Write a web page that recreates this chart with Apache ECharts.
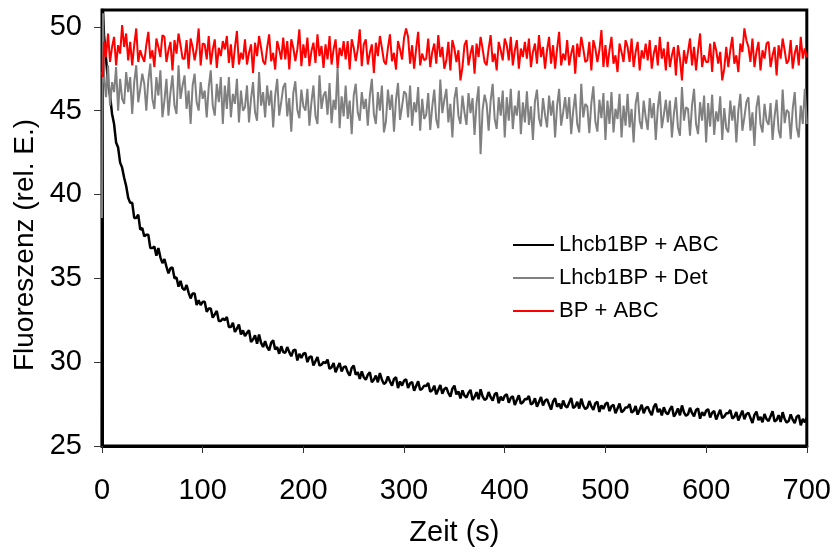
<!DOCTYPE html>
<html>
<head>
<meta charset="utf-8">
<script src="https://cdn.jsdelivr.net/npm/echarts@6/dist/echarts.min.js"></script>
<style>
html,body{margin:0;padding:0;background:#fff;}
#chart{width:834px;height:552px;}
</style>
</head>
<body>
<div id="chart"></div>
<script>
// ---- data ----
const seriesNames = ['Lhcb1BP + ABC', 'Lhcb1BP + Det', 'BP + ABC'];
const xTicks = [0, 100, 200, 300, 400, 500, 600, 700];
const yTicks = [25, 30, 35, 40, 45, 50];
const sampleStart = 2;   // s, first regular sample
const sampleStep = 2;    // s, spacing of regular samples

// initial transients [time, value]
const blackStart = [[0, 25], [1, 51]];
const grayStart = [[0, 38.6], [1, 50.8]];
const redStart = [[0, 47.3], [1, 47.0]];

const blackValues = [
  49.5, 48.1, 46.7, 45.9, 44.8, 44.2, 43.1, 42.8, 41.9, 41.6,
  41.0, 40.5, 39.8, 39.5, 39.5, 38.6, 38.6, 38.8, 37.9, 38.0,
  37.5, 37.6, 37.6, 36.8, 36.8, 36.9, 36.35, 36.8, 36.25, 35.9,
  36.15, 35.7, 35.3, 35.6, 35.65, 35.0, 35.05, 34.5, 34.85, 34.4,
  34.3, 34.6, 34.15, 33.8, 34.1, 34.1, 33.4, 33.7, 33.4, 33.6,
  33.6, 33.0, 33.2, 33.2, 32.65, 32.85, 33.05, 32.45, 32.45, 32.6,
  32.5, 32.7, 32.1, 32.1, 32.35, 31.8, 32.0, 32.25, 31.65, 31.9,
  31.55, 31.75, 31.9, 31.2, 31.35, 31.6, 31.1, 31.65, 31.15, 30.9,
  31.25, 30.9, 30.7, 31.15, 31.3, 30.75, 30.9, 30.5, 30.95, 30.6,
  30.55, 30.9, 30.6, 30.35, 30.7, 30.75, 30.1, 30.5, 30.25, 30.5,
  30.55, 30.0, 30.3, 30.35, 29.8, 30.05, 30.3, 29.8, 29.85, 30.0,
  29.95, 30.15, 29.6, 29.7, 29.95, 29.4, 29.7, 29.95, 29.45, 29.7,
  29.75, 29.4, 29.2, 29.65, 29.8, 29.25, 29.4, 29.0, 29.45, 29.1,
  28.95, 29.25, 29.4, 28.8, 28.95, 29.2, 28.8, 29.35, 28.95, 28.7,
  28.8, 29.15, 28.85, 28.6, 29.0, 29.1, 28.45, 28.85, 28.6, 28.9,
  28.98, 28.46, 28.74, 28.82, 28.3, 28.58, 28.86, 28.34, 28.42, 28.6,
  28.58, 28.76, 28.24, 28.32, 28.6, 28.08, 28.36, 28.64, 28.12, 28.4,
  28.48, 28.16, 27.94, 28.42, 28.6, 28.08, 28.26, 27.84, 28.32, 28.0,
  27.89, 28.17, 28.35, 27.74, 27.92, 28.21, 27.79, 28.38, 27.96, 27.75,
  27.84, 28.22, 27.91, 27.7, 28.08, 28.17, 27.55, 27.94, 27.72, 28.0,
  28.09, 27.58, 27.87, 27.96, 27.45, 27.74, 28.03, 27.52, 27.61, 27.8,
  27.79, 27.98, 27.47, 27.56, 27.85, 27.34, 27.63, 27.92, 27.41, 27.7,
  27.79, 27.48, 27.17, 27.66, 27.85, 27.34, 27.53, 27.22, 27.71, 27.4,
  27.29, 27.58, 27.87, 27.26, 27.35, 27.64, 27.23, 27.82, 27.41, 27.2,
  27.29, 27.68, 27.37, 27.16, 27.55, 27.64, 27.03, 27.42, 27.21, 27.5,
  27.59, 27.08, 27.37, 27.46, 26.95, 27.24, 27.53, 27.02, 27.11, 27.3,
  27.3, 27.5, 26.99, 27.09, 27.38, 26.87, 27.16, 27.46, 26.95, 27.25,
  27.35, 27.05, 26.84, 27.33, 27.52, 27.02, 27.21, 26.82, 27.31, 27.0,
  26.89, 27.18, 27.37, 26.76, 26.95, 27.24, 26.83, 27.42, 27.01, 26.8,
  26.89, 27.28, 26.97, 26.76, 27.15, 27.24, 26.63, 27.02, 26.81, 27.1,
  27.2, 26.7, 26.99, 27.08, 26.58, 26.87, 27.16, 26.66, 26.76, 26.95,
  26.95, 27.15, 26.64, 26.74, 27.03, 26.52, 26.82, 27.11, 26.6, 26.9,
  26.99, 26.68, 26.37, 26.86, 27.05, 26.54, 26.73, 26.42, 26.91, 26.6,
  26.49, 26.78, 27.07, 26.46, 26.55, 26.84, 26.43, 27.02, 26.61, 26.4,
  26.49, 26.88, 26.57, 26.36, 26.75, 26.84, 26.23, 26.62, 26.41, 26.7
];

const grayValues = [
  47.2, 45.8, 47.7, 45.3, 46.7, 46.1, 47.6, 45.0, 46.9, 45.7,
  45.4, 47.3, 46.1, 47.0, 44.8, 46.7, 47.7, 45.5, 46.3, 47.2,
  46.6, 45.0, 46.8, 47.8, 45.7, 45.1, 47.0, 45.9, 47.4, 44.6,
  45.6, 46.9, 44.7, 46.1, 47.1, 45.3, 44.8, 47.7, 45.7, 46.5,
  47.1, 45.1, 46.2, 44.2, 46.5, 47.2, 45.5, 45.0, 46.7, 45.7,
  46.2, 44.6, 46.4, 47.4, 45.3, 44.7, 46.6, 45.5, 47.0, 44.2,
  46.5, 45.1, 47.0, 44.6, 46.0, 45.4, 46.9, 44.3, 46.2, 45.0,
  45.2, 46.5, 44.3, 45.7, 46.7, 44.9, 44.4, 47.3, 45.3, 46.1,
  44.6, 46.5, 45.3, 46.2, 44.0, 45.9, 46.9, 44.7, 45.5, 46.4,
  46.65, 44.65, 45.75, 43.75, 46.05, 46.75, 45.05, 44.55, 46.25, 45.25,
  45.0, 46.3, 44.1, 45.5, 46.5, 44.7, 44.2, 47.1, 45.1, 45.9,
  46.15, 44.75, 46.65, 44.25, 45.65, 45.05, 47.6, 43.95, 45.85, 44.65,
  46.5, 44.5, 45.6, 43.6, 45.9, 46.6, 44.9, 44.4, 46.1, 45.1,
  45.7, 44.1, 45.9, 46.9, 44.8, 44.2, 46.1, 45.0, 46.5, 43.7,
  44.35, 46.25, 45.05, 45.95, 43.75, 45.65, 46.65, 44.45, 45.25, 46.15,
  46.0, 44.6, 46.5, 44.1, 45.5, 44.9, 46.4, 43.8, 45.7, 44.5,
  44.75, 46.05, 43.85, 45.25, 46.25, 44.45, 43.95, 46.85, 44.85, 45.65,
  46.3, 44.3, 45.4, 43.4, 45.7, 46.4, 44.7, 44.2, 45.9, 44.9,
  44.15, 46.05, 44.85, 45.75, 43.55, 45.45, 46.45, 42.4, 45.05, 45.95,
  45.4, 43.8, 45.6, 46.6, 44.5, 43.9, 45.8, 44.7, 46.2, 43.4,
  45.8, 44.4, 46.3, 43.9, 45.3, 44.7, 46.2, 43.6, 45.5, 44.3,
  46.15, 44.15, 45.25, 43.25, 45.55, 46.25, 44.55, 44.05, 45.75, 44.75,
  44.0, 45.9, 44.7, 45.6, 43.4, 45.3, 46.3, 44.1, 44.9, 45.8,
  44.5, 45.8, 43.6, 45.0, 46.0, 44.2, 43.7, 46.6, 44.6, 45.4,
  45.25, 43.65, 45.45, 46.45, 44.35, 43.75, 45.65, 44.55, 46.05, 43.25,
  45.6, 44.2, 46.1, 43.7, 45.1, 44.5, 46.0, 43.4, 45.3, 44.1,
  46.0, 44.0, 45.1, 43.1, 45.4, 46.1, 44.4, 43.9, 45.6, 44.6,
  43.85, 45.75, 44.55, 45.45, 43.25, 45.15, 46.15, 43.95, 44.75, 45.65,
  44.3, 45.6, 43.4, 44.8, 45.8, 44.0, 43.5, 46.4, 44.4, 45.2,
  45.1, 43.5, 45.3, 46.3, 44.2, 43.6, 45.5, 44.4, 45.9, 43.1,
  45.45, 44.05, 45.95, 43.55, 44.95, 44.35, 45.85, 43.25, 45.15, 43.95,
  43.7, 45.6, 44.4, 45.3, 43.1, 45.0, 46.0, 43.8, 44.6, 45.5,
  45.8, 43.8, 44.9, 42.9, 45.2, 45.9, 44.2, 43.7, 45.4, 44.4,
  44.15, 45.45, 43.25, 44.65, 45.65, 43.85, 43.35, 46.25, 44.25, 45.05,
  44.9, 43.3, 45.1, 46.1, 44.0, 43.4, 45.3, 44.2, 46.3, 44.2
];

const redValues = [
  49.1, 48.2, 49.6, 47.9, 48.8, 49.4, 47.7, 48.9, 48.4, 50.1,
  48.8, 49.6, 48.0, 49.1, 47.7, 48.9, 49.9, 47.9, 48.6, 48.2,
  47.9, 48.9, 49.7, 48.1, 48.6, 47.6, 49.3, 48.8, 48.2, 49.5,
  49.4, 47.9, 48.6, 49.1, 47.4, 49.2, 48.4, 49.6, 48.9, 48.1,
  48.1, 49.2, 47.5, 49.3, 48.8, 48.0, 48.7, 49.9, 47.7, 49.0,
  48.95, 48.05, 49.45, 47.75, 48.65, 49.25, 47.55, 48.75, 48.25, 49.15,
  48.65, 49.45, 47.85, 48.95, 47.55, 48.75, 49.75, 47.75, 48.45, 48.05,
  49.25, 47.75, 48.45, 48.95, 47.25, 49.05, 48.25, 49.45, 48.75, 47.95,
  47.75, 48.75, 49.55, 47.95, 48.45, 47.45, 49.15, 48.65, 48.05, 49.35,
  48.05, 49.15, 47.45, 49.25, 48.75, 47.95, 48.65, 49.85, 47.65, 48.95,
  48.15, 49.35, 47.65, 48.55, 49.05, 47.85, 49.55, 48.25, 48.85, 47.55,
  48.95, 48.05, 49.45, 47.75, 48.65, 49.25, 47.55, 48.75, 48.25, 49.15,
  48.05, 49.15, 47.45, 49.25, 48.75, 47.95, 48.65, 49.85, 47.65, 48.95,
  49.25, 47.75, 48.45, 48.95, 47.25, 49.05, 48.25, 49.45, 48.75, 47.95,
  47.75, 48.75, 49.55, 47.95, 48.45, 47.45, 49.15, 48.65, 48.05, 49.35,
  49.9, 49.4, 47.8, 48.9, 47.5, 48.7, 49.7, 47.7, 48.4, 48.0,
  48.1, 49.3, 47.6, 48.5, 49.0, 47.8, 49.5, 48.2, 48.8, 47.5,
  48.0, 49.1, 47.4, 49.2, 48.7, 47.9, 48.6, 46.8, 47.6, 48.9,
  49.2, 47.7, 48.4, 48.9, 47.2, 49.0, 48.2, 49.4, 48.7, 47.9,
  47.7, 48.7, 49.5, 47.9, 48.4, 47.4, 49.1, 48.6, 48.0, 49.3,
  48.9, 48.0, 49.4, 47.7, 48.6, 49.2, 47.5, 48.7, 48.2, 49.1,
  48.1, 49.3, 47.6, 48.5, 49.0, 47.8, 49.5, 48.2, 48.8, 47.5,
  48.6, 49.4, 47.8, 48.9, 47.5, 48.7, 49.7, 47.7, 48.4, 48.0,
  49.2, 47.7, 48.4, 48.9, 47.2, 49.0, 48.2, 49.4, 48.7, 47.9,
  48.0, 49.1, 47.4, 49.2, 48.7, 47.9, 48.6, 49.8, 47.6, 48.9,
  47.6, 48.6, 49.4, 47.8, 48.3, 47.3, 49.0, 48.5, 47.9, 49.2,
  48.8, 47.9, 49.3, 47.6, 48.5, 49.1, 47.4, 48.6, 48.1, 49.0,
  48.0, 49.2, 47.5, 48.4, 48.9, 47.7, 49.4, 48.1, 48.7, 47.4,
  49.1, 47.6, 48.3, 48.8, 47.1, 48.9, 48.1, 46.8, 48.6, 47.8,
  48.5, 49.3, 47.7, 48.8, 47.4, 48.6, 49.6, 47.6, 48.3, 47.9,
  47.9, 49.0, 47.3, 49.1, 48.6, 47.8, 48.5, 46.8, 47.5, 48.8,
  47.6, 48.6, 49.4, 47.8, 48.3, 47.3, 49.0, 48.5, 49.9, 49.2,
  48.8, 47.9, 49.3, 47.6, 48.5, 49.1, 47.4, 48.6, 48.1, 49.0,
  49.1, 47.6, 48.3, 48.8, 47.1, 48.9, 48.1, 49.3, 48.6, 47.8,
  48.0, 49.2, 47.5, 48.4, 48.9, 47.7, 49.4, 48.1, 48.7, 48.2
];

function pairs(start, values) {
  return start.concat(values.map((v, i) => [sampleStart + i * sampleStep, v]));
}

const FONT = '"Liberation Sans", Arial, sans-serif';
const chart = echarts.init(document.getElementById('chart'), null, {renderer: 'canvas'});
chart.setOption({
  animation: false,
  backgroundColor: '#ffffff',
  grid: {
    left: 102, right: 26, top: 10, bottom: 105,
    show: true, borderColor: '#000', borderWidth: 3, backgroundColor: 'transparent'
  },
  legend: {
    data: seriesNames,
    orient: 'vertical',
    left: 508, top: 229,
    icon: 'rect',
    itemWidth: 41, itemHeight: 2,
    itemGap: 11,
    textStyle: {fontFamily: FONT, fontSize: 22, color: '#000', lineHeight: 22}
  },
  xAxis: {
    type: 'value',
    min: 0, max: 700, interval: 100,
    name: 'Zeit (s)', nameLocation: 'middle', nameGap: 72,
    nameTextStyle: {fontFamily: FONT, fontSize: 29, color: '#000'},
    axisLine: {show: true, lineStyle: {color: '#000', width: 3}},
    axisTick: {show: true, inside: false, length: 7, lineStyle: {color: '#333', width: 1}, customValues: xTicks},
    axisLabel: {margin: 30, fontFamily: FONT, fontSize: 29, color: '#000', customValues: xTicks},
    splitLine: {show: false}
  },
  yAxis: {
    type: 'value',
    min: 25, max: 51, interval: 5,
    name: 'Fluoreszenz (rel. E.)', nameLocation: 'middle', nameGap: 62,
    nameTextStyle: {fontFamily: FONT, fontSize: 28, color: '#000', padding: [0, 34, 0, 0]},
    axisLine: {show: true, lineStyle: {color: '#000', width: 3}},
    axisTick: {show: true, inside: false, length: 8, lineStyle: {color: '#333', width: 1}, customValues: yTicks},
    axisLabel: {margin: 20, fontFamily: FONT, fontSize: 29, color: '#000', customValues: yTicks},
    splitLine: {show: false}
  },
  series: [
    {name: seriesNames[0], type: 'line', data: pairs(blackStart, blackValues),
     showSymbol: false, symbol: 'none', lineStyle: {color: '#000000', width: 2.5}, itemStyle: {color: '#000000'}},
    {name: seriesNames[1], type: 'line', data: pairs(grayStart, grayValues),
     showSymbol: false, symbol: 'none', lineStyle: {color: '#808080', width: 2}, itemStyle: {color: '#808080'}},
    {name: seriesNames[2], type: 'line', data: pairs(redStart, redValues),
     showSymbol: false, symbol: 'none', lineStyle: {color: '#ff0000', width: 2}, itemStyle: {color: '#ff0000'}}
  ]
});
</script>
</body>
</html>
